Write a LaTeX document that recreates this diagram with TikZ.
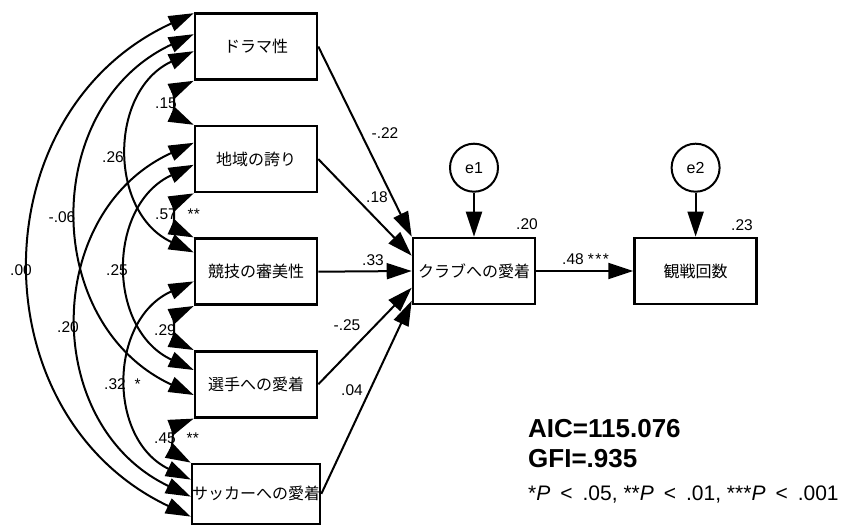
\documentclass[tikz,border=0pt]{standalone}
\usepackage{fontspec}
\setmainfont{Liberation Sans}
\newfontfamily\jpfont{Noto Sans CJK JP}
\usepackage{tikz}
\usetikzlibrary{arrows.meta,positioning}

\begin{document}
\begin{tikzpicture}[x=1pt,y=1pt,node distance=44pt,>={Triangle[length=25pt,width=16pt]},box/.style={draw,line width=2.6pt,minimum width=122pt,minimum height=66pt,inner sep=0pt,font=\jpfont\fontsize{16}{18}\selectfont},err/.style={draw,circle,line width=2pt,minimum size=48pt,inner sep=0pt,font=\fontsize{16}{18}\selectfont},reg/.style={->,line width=2pt},cov/.style={<->,line width=2pt,bend right=65,looseness=1.2},lab/.style={inner sep=0pt,font=\fontsize{15.5}{17}\selectfont}]
\useasboundingbox (0,0) rectangle (842,525);
\node[box] (d1) at (256,478.5) {ドラマ性};
\node[box,below=of d1] (d2) {地域の誇り};
\node[box,below=of d2] (d3) {競技の審美性};
\node[box,below=of d3] (d4) {選手への愛着};
\node[box,below=of d4,minimum height=60pt] (d5) {サッカーへの愛着};
\node[box] (club) at (474,254) {クラブへの愛着};
\node[box,right=97pt of club] (watch) {観戦回数};
\node[err,above=of club] (e1) {e1};
\node[err,above=of watch] (e2) {e2};
\coordinate (p1a) at ([yshift=-1pt]d1.north west);\coordinate (p1b) at ([yshift=-22pt]d1.north west);\coordinate (p1c) at ([yshift=-39pt]d1.north west);
\coordinate (p2a) at ([yshift=-18pt]d2.north west);\coordinate (p2b) at ([yshift=-40pt]d2.north west);
\coordinate (p3a) at ([yshift=-15pt]d3.north west);\coordinate (p3b) at ([yshift=-44pt]d3.north west);
\coordinate (p4a) at ([yshift=-20pt]d4.north west);\coordinate (p4b) at ([yshift=-45pt]d4.north west);
\coordinate (p5a) at ([yshift=-17pt]d5.north west);\coordinate (p5b) at ([yshift=-34pt]d5.north west);\coordinate (p5c) at ([yshift=-54pt]d5.north west);
\coordinate (q2) at ([yshift=-19pt]club.north west);\coordinate (q4) at ([yshift=-51pt]club.north west);\coordinate (q5) at ([yshift=-64pt]club.north west);
\draw[cov] (d1.south west) to (d2.north west);\draw[cov] (d2.south west) to (d3.north west);\draw[cov] (d3.south west) to (d4.north west);\draw[cov] (d4.south west) to (d5.north west);
\draw[cov] (p1c) to (p3a);\draw[cov] (p2b) to (p4a);\draw[cov] (p3b) to (p5a);
\draw[cov] (p1b) to (p4b);\draw[cov] (p2a) to (p5b);\draw[cov] (p1a) to (p5c);
\draw[reg] (d1.east)--(club.north west);\draw[reg] (d2.east)--(q2);\draw[reg] (d3.east)--(club.west);\draw[reg] (d4.east)--(q4);\draw[reg] (d5.east)--(q5);
\draw[reg] (e1)--(club);\draw[reg] (e2)--(watch);\draw[reg] (club)--(watch);
\node[lab] at (385,392) {-.22};
\node[lab] at (377,328) {.18};
\node[lab] at (373,265) {.33};
\node[lab] at (347,200) {-.25};
\node[lab] at (352,135) {.04};
\node[lab] at (527,301) {.20};
\node[lab] at (742,300) {.23};
\node[lab,anchor=west] at (562,266) {.48\hspace{4pt}*\hspace{1.5pt}*\hspace{1.5pt}*};
\node[lab] at (166,422) {.15};
\node[lab,anchor=west] at (155,311) {.57\hspace{11pt}**};
\node[lab] at (165,195) {.29};
\node[lab,anchor=west] at (154,87) {.45\hspace{11pt}**};
\node[lab] at (113,368) {.26};
\node[lab] at (62,308) {-.06};
\node[lab] at (117,255) {.25};
\node[lab] at (21,255) {.00};
\node[lab] at (68,198) {.20};
\node[lab,anchor=west] at (104,141) {.32\hspace{9pt}*};
\node[anchor=base west,inner sep=0pt,font=\bfseries\fontsize{26}{30}\selectfont] (aic) at (528,88) {AIC=115.076};
\node[anchor=base west,inner sep=0pt,font=\bfseries\fontsize{26}{30}\selectfont] (gfi) at (528,58) {GFI=.935};
\node[anchor=base west,inner sep=0pt,font=\fontsize{21}{24}\selectfont] (sig) at (528,25) {*\textit{P}\hspace{10pt}<\hspace{10pt}.05, **\textit{P}\hspace{10pt}<\hspace{10pt}.01, ***\textit{P}\hspace{10pt}<\hspace{10pt}.001};
\end{tikzpicture}
\end{document}
